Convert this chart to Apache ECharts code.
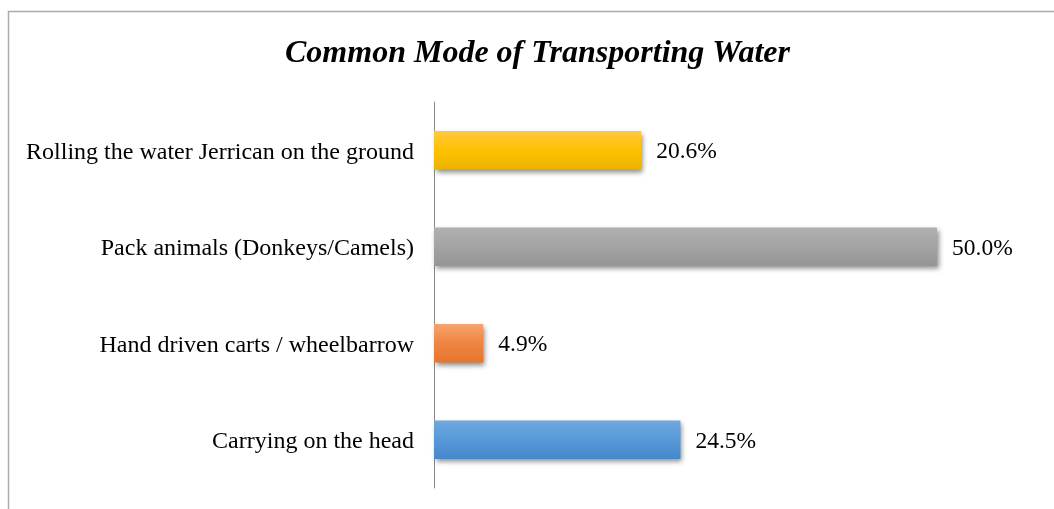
<!DOCTYPE html>
<html><head><meta charset="utf-8">
<script src="https://cdn.jsdelivr.net/npm/echarts@6/dist/echarts.min.js"></script>
<style>html,body{margin:0;padding:0;background:#fff}#c{width:1054px;height:509px}</style>
</head><body><div id="c"></div>
<script>
const categories = ["Carrying on the head", "Hand driven carts / wheelbarrow", "Pack animals (Donkeys/Camels)", "Rolling the water Jerrican on the ground"];
const values = [24.5, 4.9, 50.0, 20.6];
const barColors = [
  ["#72A8DE", "#5699D9", "#4787CA"],
  ["#F6A36F", "#EF8442", "#E6762C"],
  ["#B0B0B0", "#A3A3A3", "#959595"],
  ["#FFC93F", "#FFC000", "#EAB200"]
];
const chart = echarts.init(document.getElementById('c'));
const font = '"Liberation Serif", "Times New Roman", serif';
chart.setOption({
  animation: false,
  title: {
    text: "Common Mode of Transporting Water",
    left: 280, top: 33,
    textStyle: {fontFamily: font, fontSize: 32, fontWeight: 'bold', fontStyle: 'italic', color: '#000'}
  },
  graphic: [{type: 'rect', shape: {x: 8.5, y: 11.5, width: 1200, height: 700}, style: {fill: 'none', stroke: '#ababab', lineWidth: 1.5}, silent: true}],
  grid: {left: 434, right: 117, top: 102, bottom: 21, containLabel: false},
  xAxis: {type: 'value', min: 0, max: 50, show: false},
  yAxis: {
    type: 'category', data: categories,
    axisLine: {lineStyle: {color: '#8a8a8a', width: 1}},
    axisTick: {show: false},
    axisLabel: {fontFamily: font, fontSize: 24, color: '#000', margin: 20,
      formatter: v => '{a|' + v + '}',
      rich: {a: {fontFamily: font, fontSize: 24, color: '#000', padding: [4, 0, 0, 0]}}}
  },
  series: [{
    type: 'bar', barWidth: '40%',
    data: values.map((v, i) => ({
      value: v,
      itemStyle: {
        color: new echarts.graphic.LinearGradient(0, 0, 0, 1, [
          {offset: 0, color: barColors[i][0]}, {offset: 0.5, color: barColors[i][1]}, {offset: 1, color: barColors[i][2]}
        ]),
        shadowColor: 'rgba(0,0,0,0.45)', shadowBlur: 5, shadowOffsetX: 2, shadowOffsetY: 3
      }
    })),
    label: {show: true, position: 'right', distance: 15, fontFamily: font, fontSize: 23.5, color: '#000',
      offset: [0, 2],
      formatter: p => p.value.toFixed(1) + '%'}
  }]
});
</script></body></html>
